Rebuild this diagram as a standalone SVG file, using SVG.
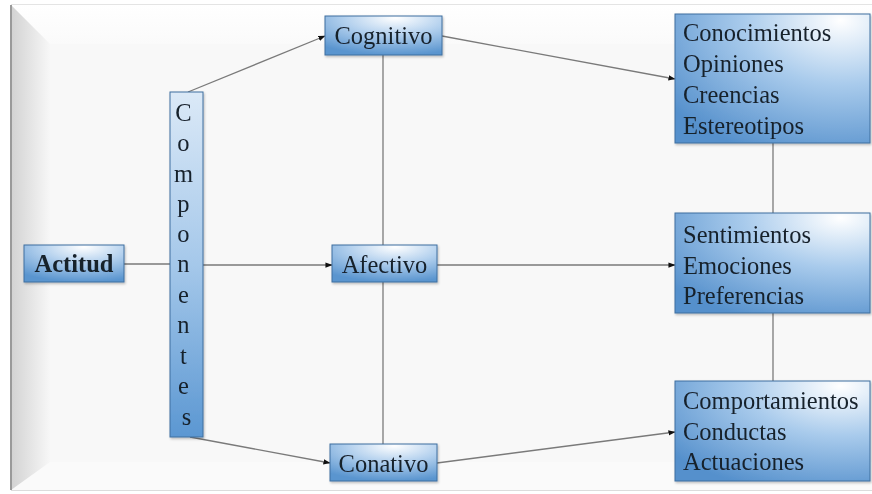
<svg xmlns="http://www.w3.org/2000/svg" width="872" height="494" viewBox="0 0 872 494">
  <defs>
    <style>
      .lbl { font-family: "Liberation Serif", "Times New Roman", serif; font-size: 24.5px; fill: #17202c; }
      .bold { font-weight: bold; }
      .box { stroke: #3f6f9f; stroke-width: 1; }
      .conn { stroke: #7a7a7a; stroke-width: 1.3; fill: none; }
      .arrow { marker-end: url(#arrowhead); }
    </style>
    <marker id="arrowhead" viewBox="0 0 8 8" refX="7.5" refY="4" markerWidth="7" markerHeight="7" markerUnits="userSpaceOnUse" orient="auto">
      <path d="M0,1 L8,4 L0,7 z" fill="#111"/>
    </marker>
    <radialGradient id="boxFill" cx="0.6" cy="0.05" r="0.95" fx="0.6" fy="0.05">
      <stop offset="0" stop-color="#ffffff"/>
      <stop offset="0.45" stop-color="#b4d1ee"/>
      <stop offset="1" stop-color="#5a95cf"/>
    </radialGradient>
    <radialGradient id="bigFill" cx="0.85" cy="0.05" r="1.1" fx="0.85" fy="0.05">
      <stop offset="0" stop-color="#ffffff"/>
      <stop offset="0.45" stop-color="#a9cbec"/>
      <stop offset="1" stop-color="#5590cc"/>
    </radialGradient>
    <linearGradient id="colFill" x1="0" y1="0" x2="0" y2="1">
      <stop offset="0" stop-color="#dbe9f7"/>
      <stop offset="0.5" stop-color="#a5c8ea"/>
      <stop offset="1" stop-color="#5b97d2"/>
    </linearGradient>
    <linearGradient id="leftBevel" x1="0" y1="0" x2="1" y2="0">
      <stop offset="0" stop-color="#d2d2d2"/>
      <stop offset="1" stop-color="#f7f7f7"/>
    </linearGradient>
    <linearGradient id="topBevel" x1="0" y1="0" x2="0" y2="1">
      <stop offset="0" stop-color="#ffffff"/>
      <stop offset="1" stop-color="#fafafa"/>
    </linearGradient>
    <filter id="soft" x="-10%" y="-10%" width="130%" height="140%">
      <feDropShadow dx="1" dy="1.5" stdDeviation="1.2" flood-color="#000" flood-opacity="0.25"/>
    </filter>
  </defs>

  <!-- page frame with bevelled edges -->
  <g id="frame">
    <rect x="0" y="0" width="872" height="494" fill="#ffffff"/>
    <rect x="11" y="5" width="861" height="486" fill="#f8f8f8"/>
    <polygon points="11,5 872,5 872,44 50,44" fill="url(#topBevel)"/>
    <polygon points="11,490 48,462 872,462 872,490" fill="#fafafa"/>
    <polygon points="11,5 50,44 50,462 11,490" fill="url(#leftBevel)"/>
    <line x1="11" y1="5" x2="11" y2="490" stroke="#9a9a9a" stroke-width="2"/>
    <line x1="11" y1="4.5" x2="872" y2="4.5" stroke="#e4e4e4" stroke-width="1"/>
    <line x1="11" y1="490.5" x2="872" y2="490.5" stroke="#dcdcdc" stroke-width="1"/>
  </g>

  <!-- connectors -->
  <g id="connectors">
    <line class="conn" x1="383" y1="55" x2="383" y2="444"/>
    <line class="conn" x1="773" y1="143" x2="773" y2="213"/>
    <line class="conn" x1="773" y1="313" x2="773" y2="381"/>
    <line class="conn" x1="124" y1="264" x2="170" y2="264"/>
    <line class="conn arrow" x1="188" y1="92" x2="325" y2="36"/>
    <line class="conn arrow" x1="203" y1="265" x2="332" y2="265"/>
    <line class="conn arrow" x1="190" y1="437" x2="330" y2="463"/>
    <line class="conn arrow" x1="442" y1="36" x2="675" y2="79"/>
    <line class="conn arrow" x1="437" y1="265" x2="675" y2="265"/>
    <line class="conn arrow" x1="437" y1="463" x2="675" y2="432"/>
  </g>

  <g id="actitud" filter="url(#soft)">
    <rect class="box" x="24" y="245" width="100" height="37" fill="url(#boxFill)"/>
    <text class="lbl bold" x="74" y="272" text-anchor="middle">Actitud</text>
  </g>

  <g id="componentes" filter="url(#soft)">
    <rect class="box" x="170" y="92" width="33" height="345" fill="url(#colFill)"/>
    <text class="lbl" x="186.5" text-anchor="middle">
      <tspan x="186.5" y="121">C</tspan>
      <tspan x="186.5" y="151">o</tspan>
      <tspan x="186.5" y="182">m</tspan>
      <tspan x="186.5" y="212">p</tspan>
      <tspan x="186.5" y="242">o</tspan>
      <tspan x="186.5" y="272">n</tspan>
      <tspan x="186.5" y="303">e</tspan>
      <tspan x="186.5" y="333">n</tspan>
      <tspan x="186.5" y="364">t</tspan>
      <tspan x="186.5" y="394">e</tspan>
      <tspan x="186.5" y="425">s</tspan>
    </text>
  </g>

  <g id="cognitivo" filter="url(#soft)">
    <rect class="box" x="325" y="16" width="117" height="39" fill="url(#boxFill)"/>
    <text class="lbl" x="383.5" y="44" text-anchor="middle">Cognitivo</text>
  </g>

  <g id="afectivo" filter="url(#soft)">
    <rect class="box" x="332" y="245" width="105" height="37" fill="url(#boxFill)"/>
    <text class="lbl" x="384.5" y="273" text-anchor="middle">Afectivo</text>
  </g>

  <g id="conativo" filter="url(#soft)">
    <rect class="box" x="330" y="444" width="107" height="37" fill="url(#boxFill)"/>
    <text class="lbl" x="383.5" y="472" text-anchor="middle">Conativo</text>
  </g>

  <g id="cognitivo-items" filter="url(#soft)">
    <rect class="box" x="675" y="14" width="195" height="129" fill="url(#bigFill)"/>
    <text class="lbl">
      <tspan x="683" y="41">Conocimientos</tspan>
      <tspan x="683" y="72">Opiniones</tspan>
      <tspan x="683" y="103">Creencias</tspan>
      <tspan x="683" y="134">Estereotipos</tspan>
    </text>
  </g>

  <g id="afectivo-items" filter="url(#soft)">
    <rect class="box" x="675" y="213" width="195" height="100" fill="url(#bigFill)"/>
    <text class="lbl">
      <tspan x="683" y="243">Sentimientos</tspan>
      <tspan x="683" y="274">Emociones</tspan>
      <tspan x="683" y="304">Preferencias</tspan>
    </text>
  </g>

  <g id="conativo-items" filter="url(#soft)">
    <rect class="box" x="675" y="381" width="195" height="100" fill="url(#bigFill)"/>
    <text class="lbl">
      <tspan x="683" y="409">Comportamientos</tspan>
      <tspan x="683" y="440">Conductas</tspan>
      <tspan x="683" y="470">Actuaciones</tspan>
    </text>
  </g>
</svg>
